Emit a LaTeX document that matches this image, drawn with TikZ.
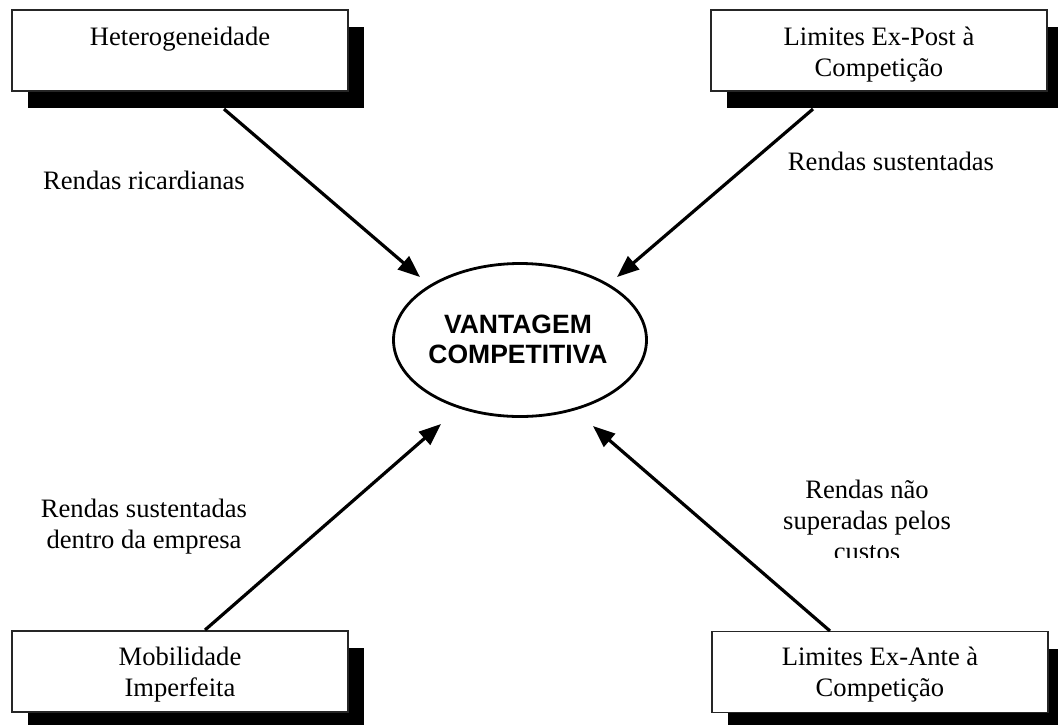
\documentclass[tikz,border=0pt]{standalone}
\usepackage{fontspec}
\setmainfont{Liberation Serif}
\setsansfont{Liberation Sans}
\usetikzlibrary{shadows,arrows.meta,shapes.geometric}

% multi-line text whose baseline is the first line
\newcommand\linesof[1]{\begin{tabular}[t]{@{}c@{}}#1\end{tabular}}

\begin{document}
\begin{tikzpicture}[x=1pt,y=-1pt,
  font=\fontsize{26.6}{31}\selectfont,
  box/.style={draw=black!85, line width=1.2pt, fill=white,
    minimum width=336pt, minimum height=81pt, inner sep=0pt,
    drop shadow={shadow xshift=16pt, shadow yshift=-17pt, fill=black, opacity=1}},
  txt/.style={anchor=base, inner sep=0pt},
  core/.style={draw, ellipse, line width=2.8pt, fill=white,
    minimum width=253pt, minimum height=153pt, inner sep=0pt},
  arr/.style={line width=3.2pt, -{Triangle[length=22pt,width=17pt]}}]

\useasboundingbox (0,0) rectangle (1058,724);

% the four factor boxes
\node[box] (het) at (180,50.5) {};
\node[box] (exp) at (879,50.5) {};
\node[box] (mob) at (180,671.5) {};
\node[box] (exa) at (880,672) {};

\node[txt] (hett) at (180,45) {Heterogeneidade};
\node[txt] (expt) at (879,45) {\linesof{Limites Ex-Post à\\Competição}};
\node[txt] (mobt) at (180,665) {\linesof{Mobilidade\\Imperfeita}};
\node[txt] (exat) at (880,665) {\linesof{Limites Ex-Ante à\\Competição}};

% central ellipse
\node[core] (vc) at (520,340) {};
\node[txt, font=\sffamily\bfseries\fontsize{26.5}{30}\selectfont] (vct) at (518,333)
  {\linesof{VANTAGEM\\COMPETITIVA}};

% arrow end points
\coordinate (s1) at (224,109);
\coordinate (t1) at (420,277);
\coordinate (s2) at (813,109);
\coordinate (t2) at (617,277);
\coordinate (s3) at (205,630);
\coordinate (t3) at (441,424);
\coordinate (s4) at (830,631);
\coordinate (t4) at (593,426);

\draw[arr] (s1) -- (t1);
\draw[arr] (s2) -- (t2);
\draw[arr] (s3) -- (t3);
\draw[arr] (s4) -- (t4);

% arrow labels
\node[txt] (l1) at (144,189) {Rendas ricardianas};
\node[txt] (l2) at (891,170) {Rendas sustentadas};
\node[txt] (l3) at (144,517) {\linesof{Rendas sustentadas\\dentro da empresa}};
\begin{scope}
  \clip (760,460) rectangle (1000,557);
  \node[txt] (l4) at (867,498) {\linesof{Rendas não\\superadas pelos\\custos}};
\end{scope}
\end{tikzpicture}
\end{document}
